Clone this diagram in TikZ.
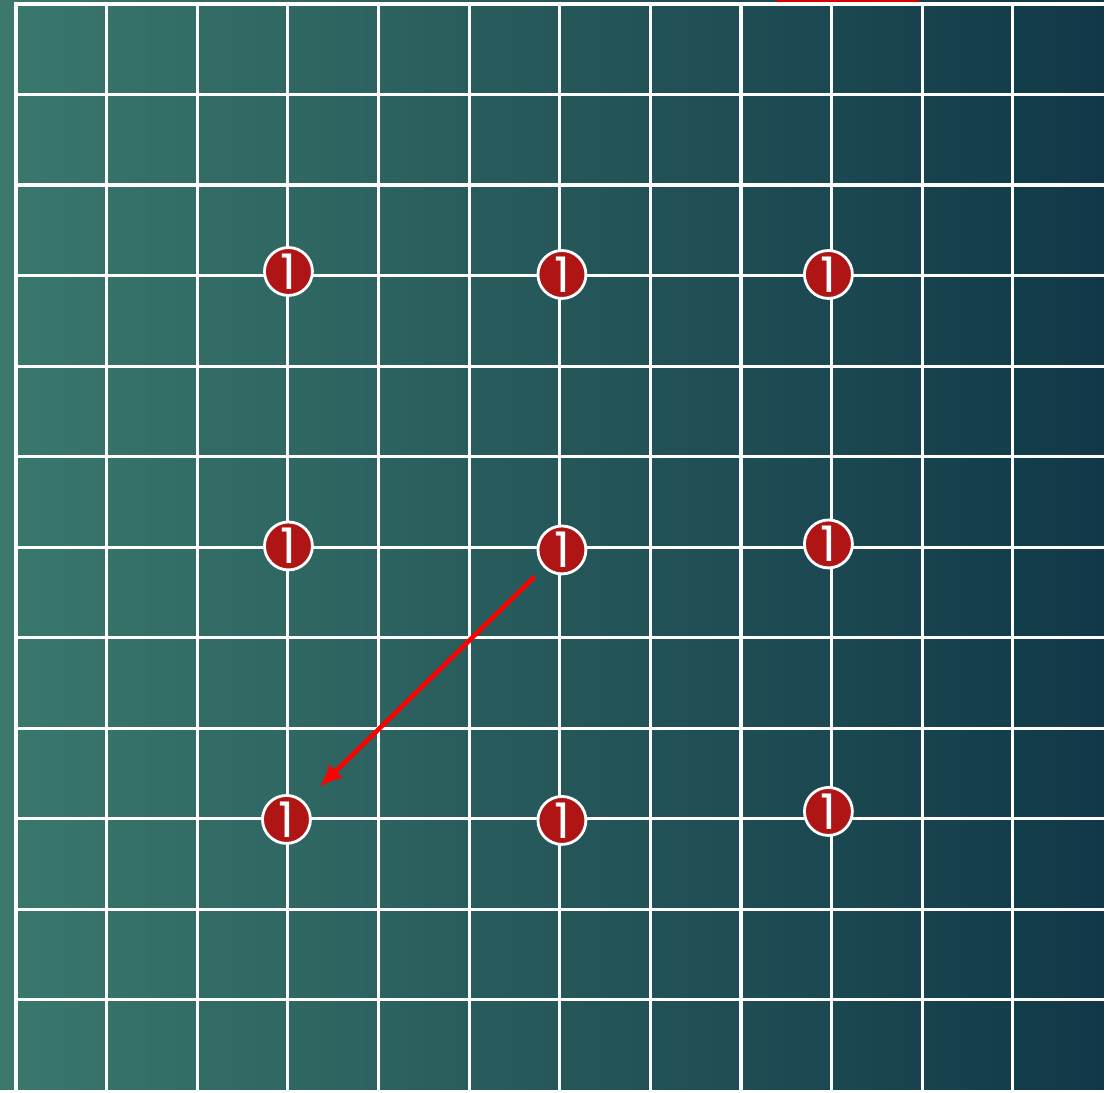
\documentclass[tikz,border=0pt]{standalone}
\usepackage{fontspec}
\newfontfamily\cifra{Poppins}
\usetikzlibrary{arrows.meta}
\definecolor{fondoA}{RGB}{58,120,108}
\definecolor{fondoM}{RGB}{36,88,94}
\definecolor{fondoB}{RGB}{17,56,72}
\definecolor{rojo}{RGB}{176,21,21}

\begin{document}
\begin{tikzpicture}[x=0.01cm,y=-0.01cm,line width=0.9pt,>={Latex[length=6.5pt,width=5.5pt]},
  marca/.style={circle,draw=white,line width=0.8pt,fill=rojo,text=white,minimum size=0.48cm,inner sep=0pt,font=\cifra\fontsize{14}{14}\selectfont}]
  % fondo degradado
  \shade[left color=fondoA,middle color=fondoM,right color=fondoB] (0,0) rectangle (1106,1092);
  \fill[red!85!black] (777,0) rectangle (921,2);
  % cuadricula
  \foreach \i in {1,...,11} \draw[white] ({16+90.8*\i},4)--({16+90.8*\i},1092);
  \foreach \j in {1,...,11} \draw[white] (16,{4+90.7*\j})--(1106,{4+90.7*\j});
  \draw[white,line width=1.2pt] (16,1092)--(16,4)--(1106,4);
  % marcas
  \node[marca] (m11) at (289,272){1};
  \node[marca] (m12) at (563,275){1};
  \node[marca] (m13) at (830,275){1};
  \node[marca] (m21) at (289,547){1};
  \node[marca] (m22) at (563,551){1};
  \node[marca] (m23) at (830,545){1};
  \node[marca] (m31) at (287,821){1};
  \node[marca] (m32) at (563,822){1};
  \node[marca] (m33) at (830,813){1};
  % desplazamiento
  \draw[->,red,line width=1.3pt,shorten <=0.13cm,shorten >=0.21cm] (m22)--(m31);
\end{tikzpicture}
\end{document}
